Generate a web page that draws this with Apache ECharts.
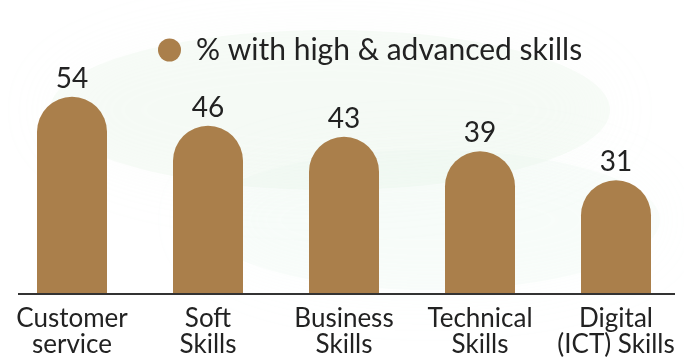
<!DOCTYPE html>
<html>
<head>
<meta charset="utf-8">
<script src="https://cdn.jsdelivr.net/npm/echarts@6/dist/echarts.min.js"></script>
<style>html,body{margin:0;padding:0;background:#fff;}#c{width:684px;height:358px;}</style>
</head>
<body>
<div id="c"></div>
<script>
const categories = ['Customer\nservice', 'Soft\nSkills', 'Business\nSkills', 'Technical\nSkills', 'Digital\n(ICT) Skills'];
const values = [54, 46, 43, 39, 31];
const seriesName = '% with high & advanced skills';

const chart = echarts.init(document.getElementById('c'), null, {renderer: 'canvas'});
const FONT = 'Lato';
chart.setOption({
  backgroundColor: '#ffffff',
  animation: false,
  graphic: [
    {type: 'ellipse', z: -10, shape: {cx: 330, cy: 110, rx: 280, ry: 80}, style: {fill: 'rgba(222,240,222,0.2)', shadowBlur: 60, shadowColor: 'rgba(222,240,222,0.5)'}},
    {type: 'ellipse', z: -10, shape: {cx: 430, cy: 220, rx: 230, ry: 70}, style: {fill: 'rgba(230,243,233,0.2)', shadowBlur: 60, shadowColor: 'rgba(230,243,233,0.5)'}},
    {type: 'line', z: 5, shape: {x1: 18, y1: 294, x2: 675, y2: 294}, style: {stroke: '#333333', lineWidth: 2}}
  ],
  legend: {
    top: 30,
    left: 153,
    itemWidth: 23,
    itemHeight: 23,
    icon: 'circle',
    textStyle: {fontFamily: FONT, fontSize: 30, color: '#222222', padding: [0, 0, 0, 10]},
    data: [seriesName]
  },
  grid: {left: 4, width: 680, top: 75, height: 219, containLabel: false},
  xAxis: {
    type: 'category',
    data: categories,
    axisLine: {show: false},
    axisTick: {show: false},
    axisLabel: {fontFamily: FONT, fontSize: 26, lineHeight: 26, color: '#222222', margin: 13, interval: 0}
  },
  yAxis: {
    type: 'value',
    min: 0,
    max: 60,
    show: false,
    splitLine: {show: false}
  },
  series: [{
    name: seriesName,
    type: 'bar',
    data: values,
    barWidth: 70,
    itemStyle: {color: '#AA7F4B', borderRadius: [35, 35, 0, 0]},
    label: {show: true, position: 'top', distance: 4, fontFamily: FONT, fontSize: 28, color: '#222222'}
  }]
});
</script>
</body>
</html>
